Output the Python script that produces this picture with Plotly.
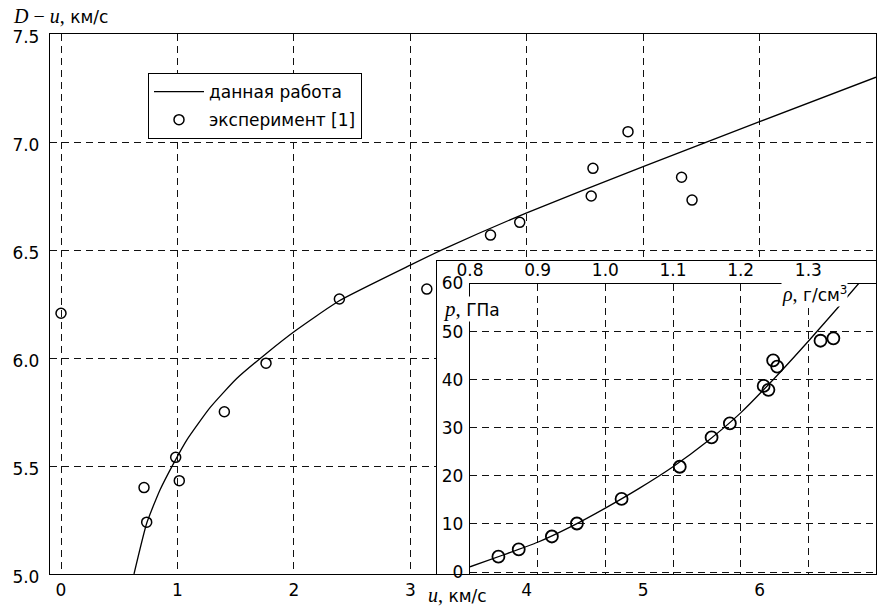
import plotly.graph_objects as go

# ---------------- data ----------------
# main plot: D-u (km/s) vs u (km/s)
u_exp = [0.0, 0.713, 0.736, 0.985, 1.016, 1.403, 1.761, 2.391, 3.142,
         3.689, 3.94, 4.554, 4.569, 4.87, 5.33, 5.42]
du_exp = [6.207, 5.40, 5.24, 5.54, 5.432, 5.751, 5.976, 6.273, 6.319,
          6.569, 6.628, 6.75, 6.878, 7.048, 6.837, 6.731]

u_calc = [0.627, 0.736, 0.851, 0.965, 1.08, 1.28, 1.509, 1.761, 2.01,
          2.39, 3.0, 3.31, 4.0, 5.0, 6.0, 7.0]
du_calc = [5.0, 5.235, 5.39, 5.51, 5.62, 5.77, 5.905, 6.02, 6.125,
           6.265, 6.43, 6.51, 6.672, 6.886, 7.094, 7.30]

# inset: p (GPa) vs rho (g/cm^3)
rho_exp = [0.842, 0.872, 0.921, 0.958, 1.024, 1.110, 1.157, 1.184, 1.234,
           1.241, 1.248, 1.254, 1.318, 1.337]
p_exp = [3.2, 4.7, 7.4, 10.1, 15.2, 21.9, 28.0, 30.9, 38.7,
         37.9, 44.0, 42.7, 48.1, 48.6]

rho_calc = [0.80, 0.85, 0.90, 0.95, 1.00, 1.05, 1.10, 1.15, 1.20, 1.25,
            1.30, 1.35, 1.375]
p_calc = [1.1, 3.6, 6.2, 9.5, 13.3, 17.4, 21.9, 27.1, 33.1, 40.3,
          48.0, 56.0, 60.1]

# tick labels
u_ticks = [0, 1, 2, 3, 4, 5, 6, 7]
du_ticks = [5.0, 5.5, 6.0, 6.5, 7.0, 7.5]
du_ticktext = ["5.0", "5.5", "6.0", "6.5", "7.0", "7.5"]
rho_ticks = [0.8, 0.9, 1.0, 1.1, 1.2, 1.3]
rho_ticktext = ["0.8", "0.9", "1.0", "1.1", "1.2", "1.3"]
p_ticks = [0, 10, 20, 30, 40, 50, 60]

legend_names = ["данная работа", "эксперимент [1]"]

# ---------------- styling ----------------
SANS = "DejaVu Sans"
SERIF = "Liberation Serif"
FS = 17
GRID = dict(showgrid=True, gridcolor="#111", gridwidth=1, griddash="7px,5px")
LINE = dict(showline=True, linecolor="black", linewidth=1.3)
TICKF = dict(family=SANS, size=FS, color="black")

W, H = 879, 606
L, R, T, B = 50, 3, 34, 32
PW, PH = W - L - R, H - T - B


def px_x(px):
    return (px - L) / PW


def px_y(py):
    return (H - B - py) / PH


fig = go.Figure()

# main curve and points
fig.add_trace(go.Scatter(
    x=u_calc, y=du_calc, mode="lines", name=legend_names[0],
    line=dict(color="black", width=1.3, shape="spline", smoothing=0.5),
    legendgroup="a", xaxis="x", yaxis="y"))
fig.add_trace(go.Scatter(
    x=u_exp, y=du_exp, mode="markers", name=legend_names[1],
    marker=dict(symbol="circle-open", size=10, color="black",
                line=dict(width=1.5, color="black")),
    legendgroup="b", xaxis="x", yaxis="y"))

# empty trace to create the inset frame subplot (white cover)
fig.add_trace(go.Scatter(x=[], y=[], xaxis="x2", yaxis="y2",
                         showlegend=False, hoverinfo="skip"))

# inset curve and points
fig.add_trace(go.Scatter(
    x=rho_calc, y=p_calc, mode="lines", showlegend=False,
    line=dict(color="black", width=1.3, shape="spline", smoothing=0.5),
    xaxis="x3", yaxis="y3"))
fig.add_trace(go.Scatter(
    x=rho_exp, y=p_exp, mode="markers", showlegend=False,
    marker=dict(symbol="circle-open", size=12, color="black",
                line=dict(width=1.8, color="black")),
    xaxis="x3", yaxis="y3"))

inset_outer_x0 = px_x(437)
inset_outer_y1 = px_y(261)
inset_x0 = px_x(470)
inset_y1 = px_y(283.5)

fig.update_layout(
    width=W, height=H,
    margin=dict(l=L, r=R, t=T, b=B, pad=0),
    paper_bgcolor="white", plot_bgcolor="white",
    font=dict(family=SANS, size=FS, color="black"),
    showlegend=True,
    legend=dict(x=px_x(148), y=px_y(73), xanchor="left", yanchor="top",
                bordercolor="black", borderwidth=1, bgcolor="white",
                font=dict(family=SANS, size=FS, color="black"),
                itemwidth=50, tracegroupgap=3, traceorder="grouped"),
    xaxis=dict(domain=[0, 1], range=[-0.0945, 7.0], tickvals=u_ticks,
               ticks="", tickfont=TICKF, zeroline=False, mirror=True,
               ticklabelstandoff=0, **GRID, **LINE),
    yaxis=dict(domain=[0, 1], range=[5.0, 7.5], tickvals=du_ticks,
               ticktext=du_ticktext, ticks="", tickfont=TICKF,
               zeroline=False, mirror=True, ticklabelstandoff=6,
               ticklabelshift=3, **GRID, **LINE),
    xaxis2=dict(domain=[inset_outer_x0, 1], range=[0, 1], anchor="y2",
                side="top", showgrid=False, zeroline=False,
                showticklabels=False, ticks="", **LINE),
    yaxis2=dict(domain=[0, inset_outer_y1], range=[0, 1], anchor="x2",
                side="left", showgrid=False, zeroline=False,
                showticklabels=False, ticks="", **LINE),
    xaxis3=dict(domain=[inset_x0, 1], range=[0.8, 1.4], anchor="y3",
                side="top", tickvals=rho_ticks, ticktext=rho_ticktext,
                ticks="", tickfont=TICKF, zeroline=False, mirror=True,
                ticklabelstandoff=0, **GRID, **LINE),
    yaxis3=dict(domain=[0, inset_y1], range=[-0.4, 60], anchor="x3",
                tickvals=p_ticks, ticks="", tickfont=TICKF,
                zeroline=False, mirror=True, ticklabelstandoff=2,
                **GRID, **LINE),
    shapes=[dict(type="rect", xref="x2", yref="y2", x0=0, x1=1, y0=0, y1=1,
                 fillcolor="white", line=dict(width=0), layer="below")],
)

fig.add_annotation(
    xref="paper", yref="paper", x=px_x(11), y=px_y(16),
    xanchor="left", yanchor="middle", showarrow=False,
    text=(f"<span style='font-family:{SERIF};font-size:20px'><i>D</i> − <i>u</i>,</span> "
          f"<span style='font-size:{FS}px'>км/с</span>"))
fig.add_annotation(
    xref="paper", yref="paper", x=px_x(426), y=px_y(595),
    xanchor="left", yanchor="middle", showarrow=False,
    text=(f"<span style='font-family:{SERIF};font-size:20px'><i>u</i>,</span> "
          f"<span style='font-size:{FS}px'>км/с</span>"))
fig.add_annotation(
    xref="paper", yref="paper", x=px_x(442), y=px_y(309),
    xanchor="left", yanchor="middle", showarrow=False,
    bgcolor="white", borderpad=0,
    text=(f"<span style='font-family:{SERIF};font-size:21px'><i>p</i>,</span>"
          f"<span style='font-size:{FS}px'> ГПа</span>"))
fig.add_annotation(
    xref="paper", yref="paper", x=px_x(848), y=px_y(294),
    xanchor="right", yanchor="middle", showarrow=False,
    bgcolor="white", borderpad=0,
    text=(f"<span style='font-family:{SERIF};font-size:20px'><i>ρ</i>,</span>"
          f"<span style='font-size:{FS}px'> г/см<sup>3</sup></span>"))

fig.write_html("out.html",
               config={"displayModeBar": False},
               post_script="document.body.style.margin='0px';")
